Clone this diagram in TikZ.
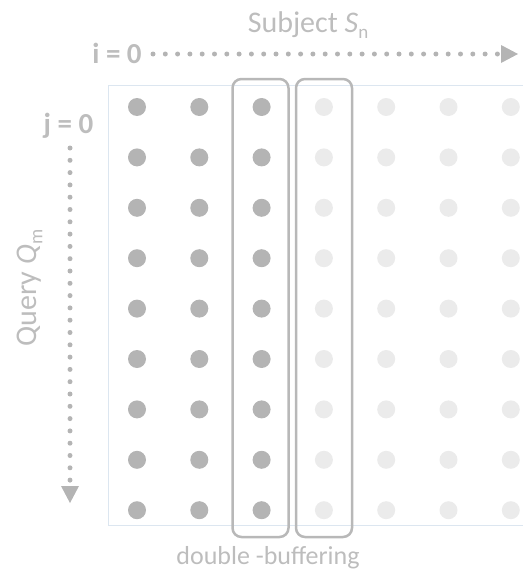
\documentclass[tikz,border=0pt]{standalone}
\usepackage{fontspec}
\setmainfont{Carlito}
\usetikzlibrary{arrows.meta}
\definecolor{darkdot}{HTML}{B4B4B4}
\definecolor{lightdot}{HTML}{EBEBEB}
\definecolor{labelgray}{HTML}{BDBDBD}
\definecolor{framecol}{HTML}{DCE6F0}
\definecolor{boxcol}{HTML}{B8B8B8}
\newcommand{\lowsub}[1]{\raisebox{-0.45ex}{\fontsize{19}{20}\selectfont #1}}
\begin{document}
\begin{tikzpicture}[x=1pt,y=-1pt,
  cell/.style={circle,inner sep=0pt,minimum size=18pt,draw=none},
  darkcell/.style={cell,fill=darkdot},
  lightcell/.style={cell,fill=lightdot},
  bufbox/.style={draw=boxcol,line width=2.5pt,rounded corners=9pt,minimum width=56pt,minimum height=458pt,inner sep=0pt},
  dotline/.style={draw=darkdot,line width=5pt,line cap=round,dash pattern=on 0pt off 12.3pt,
    -{Triangle[length=17pt,width=18pt,line width=0pt,fill=darkdot]}},
  lbl/.style={text=labelgray,inner sep=0pt,font=\fontsize{30}{32}\selectfont},
  boldlbl/.style={lbl,font=\fontsize{29}{30}\selectfont\bfseries},
  frameline/.style={draw=framecol,line width=1pt}]
\useasboundingbox (0,0) rectangle (523,570);
% grid frame
\coordinate (ftr) at (523,85);
\coordinate (ftl) at (108,85);
\coordinate (fbl) at (108,525);
\coordinate (fbr) at (523,525);
\draw[frameline] (ftr) -- (ftl) -- (fbl) -- (fbr);
% dots
\foreach \c in {0,...,6} {
  \foreach \r in {0,...,8} {
    \pgfmathsetmacro{\xx}{137+62.3*\c}
    \pgfmathsetmacro{\yy}{107+50.4*\r}
    \ifnum\c<3
      \node[darkcell] (d-\c-\r) at (\xx,\yy) {};
    \else
      \node[lightcell] (d-\c-\r) at (\xx,\yy) {};
    \fi
  }
}
% double-buffer boxes
\node[bufbox] (buf1) at (260.5,308) {};
\node[bufbox] (buf2) at (324,308) {};
% axes
\coordinate (hs) at (153,54);
\coordinate (he) at (518,54);
\draw[dotline] (hs) -- (he);
\coordinate (vs) at (70,148);
\coordinate (ve) at (70,503);
\draw[dotline] (vs) -- (ve);
% labels
\node[lbl,anchor=base] (subj) at (308,32) {Subject \textit{S}\lowsub{n}};
\node[boldlbl,anchor=base] (i0) at (117,63) {i = 0};
\node[boldlbl,anchor=base] (j0) at (68.5,133) {j = 0};
\node[lbl,anchor=base,rotate=90] (query) at (36,288) {Query \textit{Q}\lowsub{m}};
\node[lbl,anchor=base,font=\fontsize{26}{28}\selectfont] (dbuf) at (268,564) {double -buffering};
\end{tikzpicture}
\end{document}
